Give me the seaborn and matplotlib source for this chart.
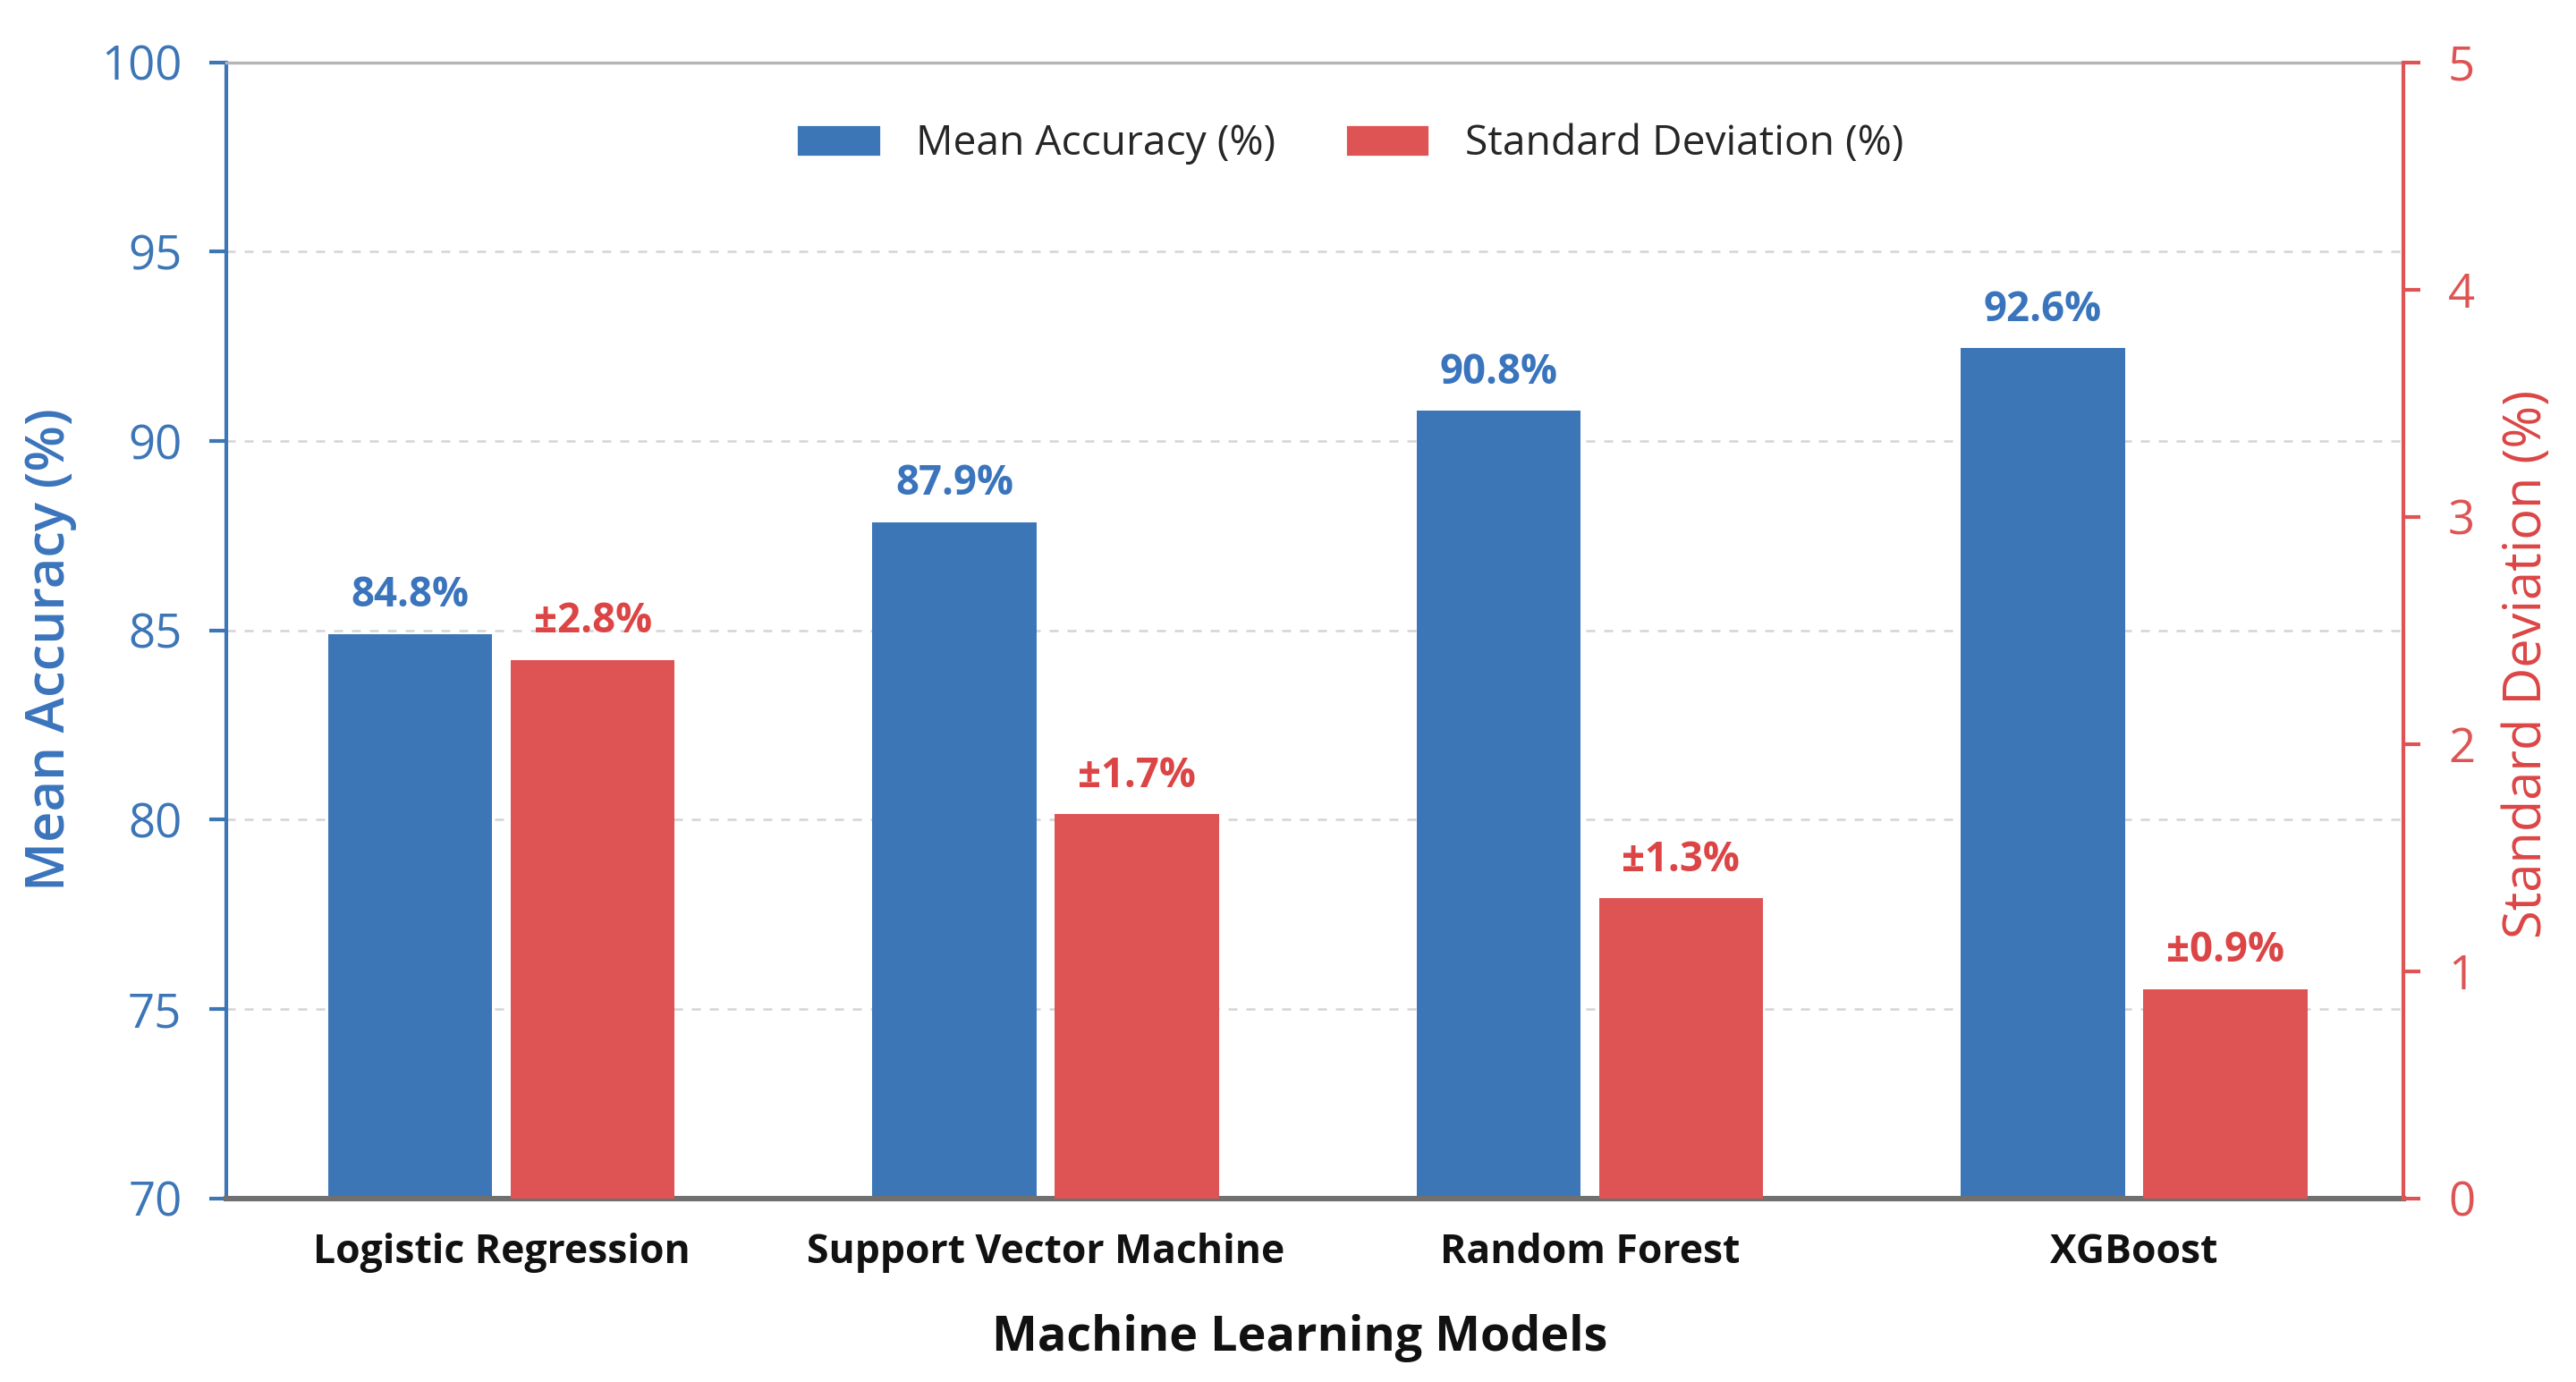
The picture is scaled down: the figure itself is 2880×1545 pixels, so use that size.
import matplotlib
matplotlib.use("Agg")
import matplotlib.pyplot as plt
from matplotlib.patches import Patch
import pandas as pd
import seaborn as sns

# values
models = ["Logistic Regression", "Support Vector Machine", "Random Forest", "XGBoost"]
mean_acc = [84.9, 87.85, 90.8, 92.45]
std_dev = [2.37, 1.69, 1.32, 0.92]
mean_labels = ["84.8%", "87.9%", "90.8%", "92.6%"]
std_labels = ["±2.8%", "±1.7%", "±1.3%", "±0.9%"]
metrics = ["Mean Accuracy (%)", "Standard Deviation (%)"]

blue = "#3D76B7"
red = "#DE5454"
blue_txt = "#3A74BC"
red_txt = "#DC4545"

sns.set_theme(style="white")
plt.rcParams["font.family"] = ["Open Sans", "DejaVu Sans"]

# each axis gets both hue levels so the bars dodge side by side;
# the other metric is zero there and stays out of sight
zeros = [0] * len(models)
df_left = pd.DataFrame({
    "Model": models * 2,
    "Metric": [metrics[0]] * 4 + [metrics[1]] * 4,
    "Value": mean_acc + zeros,
})
df_right = pd.DataFrame({
    "Model": models * 2,
    "Metric": [metrics[0]] * 4 + [metrics[1]] * 4,
    "Value": zeros + std_dev,
})

fig = plt.figure(figsize=(14.4, 7.725), dpi=200)
ax = fig.add_axes([0.088, 0.133, 0.845, 0.822])
ax2 = ax.twinx()

sns.barplot(data=df_left, x="Model", y="Value", hue="Metric", hue_order=metrics,
            palette=[blue, red], width=0.67, gap=0.1, saturation=1, linewidth=0,
            legend=False, ax=ax)
sns.barplot(data=df_right, x="Model", y="Value", hue="Metric", hue_order=metrics,
            palette=[blue, red], width=0.67, gap=0.1, saturation=1, linewidth=0,
            legend=False, ax=ax2)

ax.set_ylim(70, 100)
ax.set_yticks(range(70, 101, 5))
ax2.set_ylim(0, 5)
ax2.set_yticks(range(0, 6))
ax.set_xlim(-0.505, 3.495)

ax.set_axisbelow(True)
ax.yaxis.grid(True, linestyle=(0, (4, 4)), color="#d4d4d4", linewidth=0.9)

ax.bar_label(ax.containers[0], labels=mean_labels, padding=7,
             color=blue_txt, fontsize=16.4, fontweight="bold")
ax2.bar_label(ax2.containers[1], labels=std_labels, padding=7,
              color=red_txt, fontsize=16.4, fontweight="bold")

for s in ["left", "top", "bottom"]:
    ax2.spines[s].set_visible(False)
ax.spines["right"].set_visible(False)
ax.spines["left"].set_color(blue)
ax.spines["left"].set_linewidth(1.5)
ax.spines["top"].set_color("#b4b4b4")
ax.spines["top"].set_linewidth(1.2)
ax.spines["bottom"].set_color("#707070")
ax.spines["bottom"].set_linewidth(2.2)
ax2.spines["right"].set_color(red)
ax2.spines["right"].set_linewidth(1.5)

ax.tick_params(axis="y", colors=blue, length=7, width=1.5, labelsize=19, pad=11)
ax2.tick_params(axis="y", colors=red, length=7, width=1.5, labelsize=19, pad=11)
ax.tick_params(axis="x", length=0, pad=14)
for t in ax.get_xticklabels():
    t.set_fontsize(16)
    t.set_fontweight("bold")
    t.set_color("#111111")

ax.set_xlabel("Machine Learning Models", fontsize=19.4, fontweight="bold", color="#111111")
ax.xaxis.set_label_coords(0.493, -0.102)
ax.set_ylabel("Mean Accuracy (%)", fontsize=21.5, fontweight="semibold", color=blue_txt)
ax.yaxis.set_label_coords(-0.0686, 0.483)
ax2.set_ylabel("Standard Deviation (%)", fontsize=20.8, color=red_txt)
ax2.yaxis.set_label_coords(1.045, 0.470)

handles = [Patch(facecolor=blue, label=metrics[0]), Patch(facecolor=red, label=metrics[1])]
ax.legend(handles=handles, loc="center", bbox_to_anchor=(0.516, 0.928), ncol=2,
          frameon=False, fontsize=16.6, handlelength=2.04, handleheight=0.83,
          handletextpad=0.85, columnspacing=1.7)

fig.savefig("out.png", dpi=200, facecolor="white")
